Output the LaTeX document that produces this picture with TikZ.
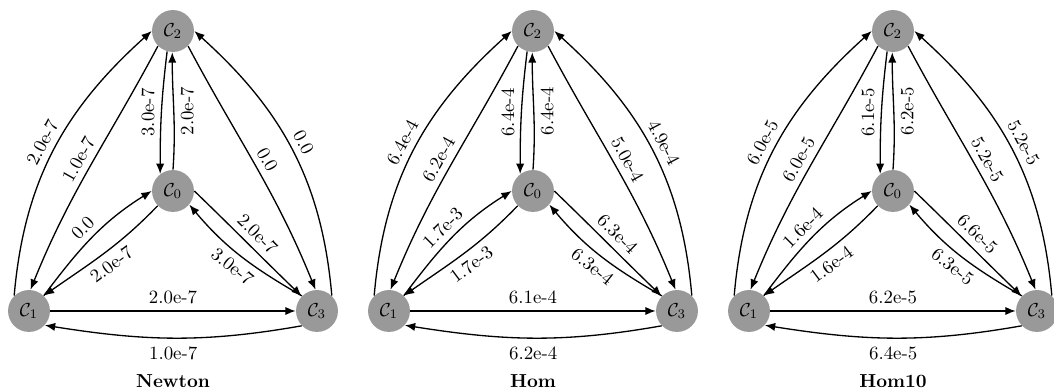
\documentclass[tikz,border=0pt]{standalone}
\usetikzlibrary{arrows.meta}
\tikzset{
  state/.style={circle, fill=black!40, minimum size=22.3pt, inner sep=0pt},
  link/.style={-{Latex[length=5.5pt,width=4.4pt]}, line width=0.7pt},
  lab/.style={sloped, midway},
  uplab/.style={midway, rotate=90},
}
\begin{document}
\begin{tikzpicture}[x=0.532pt,y=0.532pt]
\useasboundingbox (0,0) rectangle (1054,392);
% one panel per method: prefix / shift / title / twelve transition labels
\foreach \p/\dx/\ttl/\la/\lb/\lc/\ld/\le/\lf/\lg/\lh/\li/\lj/\lk/\ll in {
  a/0/Newton/2.0e-7/1.0e-7/3.0e-7/2.0e-7/0.0/0.0/0.0/2.0e-7/2.0e-7/3.0e-7/2.0e-7/1.0e-7,
  b/360/Hom/6.4e-4/6.2e-4/6.4e-4/6.4e-4/5.0e-4/4.9e-4/1.7e-3/1.7e-3/6.3e-4/6.3e-4/6.1e-4/6.2e-4,
  c/720/Hom10/6.0e-5/6.0e-5/6.1e-5/6.2e-5/5.2e-5/5.2e-5/1.6e-4/1.6e-4/6.6e-5/6.3e-5/6.2e-5/6.4e-5}
{
  \begin{scope}[shift={(\dx,0)}]
    \node[state] (\p0) at (173,201) {$\mathcal{C}_0$};
    \node[state] (\p1) at (29,81)   {$\mathcal{C}_1$};
    \node[state] (\p2) at (173,361) {$\mathcal{C}_2$};
    \node[state] (\p3) at (317,81)  {$\mathcal{C}_3$};
    \node (\p t) at (173,11) {\textbf{\ttl}};
    % C1 <-> C2
    \draw[link] (\p1.134) to[out=85,in=222] node[lab,above] {\la} (\p2.180);
    \draw[link] (\p2.225) to[out=242,in=68] node[lab,above] {\lb} (\p1.86);
    % C2 <-> C0, labels read upwards on either side
    \draw[link] (\p2.254) to[out=263,in=90] node[uplab,anchor=south] {\lc} (\p0.127);
    \draw[link] (\p0.90) to[out=86,in=270] node[uplab,anchor=north] {\ld} (\p2.268);
    % C2 <-> C3
    \draw[link] (\p2.315) to[out=298,in=112] node[lab,above] {\le} (\p3.94);
    \draw[link] (\p3.46) to[out=95,in=318] node[lab,above] {\lf} (\p2.0);
    % C1 <-> C0
    \draw[link] (\p1.46) to[out=53,in=212] node[lab,above] {\lg} (\p0.180);
    \draw[link] (\p0.224) to[out=226,in=35] node[lab,below] {\lh} (\p1.46);
    % C0 <-> C3
    \draw[link] (\p0.0) to[out=316,in=136] node[lab,above] {\li} (\p3.136);
    \draw[link] (\p3.135) to[out=150,in=310] node[lab,below] {\lj} (\p0.320);
    % C1 <-> C3
    \draw[link] (\p1) -- node[lab,above] {\lk} (\p3);
    \draw[link] (\p3.224) to[out=190,in=351] node[lab,below=1pt] {\ll} (\p1.318);
  \end{scope}
}
\end{tikzpicture}
\end{document}
